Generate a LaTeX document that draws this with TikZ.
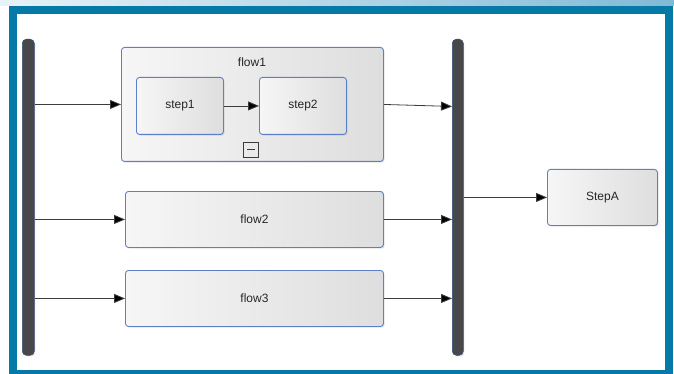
\documentclass[tikz,border=0pt]{standalone}
\usepackage{fontspec}
\setmainfont{Liberation Sans}
\usetikzlibrary{arrows.meta,shadows,calc}
\definecolor{teal1}{RGB}{6,122,166}
\definecolor{bandL}{RGB}{232,242,248}
\definecolor{bandR}{RGB}{128,186,214}
\definecolor{boxblue}{RGB}{92,128,200}
\definecolor{bargray}{RGB}{72,72,74}
\definecolor{linegray}{RGB}{60,60,60}
\definecolor{boxL}{RGB}{246,246,246}
\definecolor{boxR}{RGB}{222,222,222}
\tikzset{
  blk/.style={draw=boxblue, line width=0.9pt, rounded corners=3pt,
    left color=boxL, right color=boxR,
    drop shadow={opacity=0.22, shadow xshift=1.2pt, shadow yshift=-1.2pt},
    anchor=north west, inner sep=0pt, text=black!85, font=\fontsize{12}{14}\selectfont},
  busbar/.style={draw=boxblue!60!black, line width=0.5pt, fill=bargray, rounded corners=4pt,
    anchor=north west, inner sep=0pt, minimum width=12pt,
    drop shadow={opacity=0.2, shadow xshift=1.2pt, shadow yshift=-1.2pt}},
  arr/.style={draw=linegray, line width=0.8pt, -{Triangle[length=11pt,width=9pt,fill=black]}},
}
\begin{document}
\begin{tikzpicture}[x=1pt,y=-1pt]
\useasboundingbox (0,0) rectangle (674,374);
% top band and frame
\shade[left color=bandL, right color=bandR] (0,0) rectangle (674,6);
\fill[white] (0,6) rectangle (674,374);
\fill[teal1] (9,6) rectangle (673,374);
\fill[white] (17,14) rectangle (665,370);
% bars
\node[busbar, minimum height=316pt] (lbar) at (22,39) {};
\node[busbar, minimum width=11pt, minimum height=316pt] (rbar) at (452,39) {};
% flow1
\node[blk, minimum width=262pt, minimum height=114pt] (flow1) at (121,47) {};
\node[text=black!85, font=\fontsize{12}{14}\selectfont] (flow1lbl) at (252,62) {flow1};
\node[blk, minimum width=87pt, minimum height=57pt] (step1) at (136,77) {step1};
\node[blk, minimum width=87pt, minimum height=57pt] (step2) at (259,77) {step2};
\node[draw=linegray, line width=0.8pt, minimum size=15pt, inner sep=0pt,
  path picture={\draw[linegray, line width=0.8pt] ([xshift=-4pt]path picture bounding box.center) -- ([xshift=4pt]path picture bounding box.center);}]
  (collapse) at (251,149.5) {};
% flows 2, 3
\node[blk, minimum width=258pt, minimum height=56pt] (flow2) at (125,191) {flow2};
\node[blk, minimum width=258pt, minimum height=56pt] (flow3) at (125,270) {flow3};
% StepA
\node[blk, minimum width=110pt, minimum height=56pt] (stepA) at (547,169) {StepA};
% connectors
\draw[arr] (lbar.east |- flow1.west) -- (flow1.west);
\draw[arr] (step1.east) -- (step2.west);
\draw[arr] (flow1.east) -- ([yshift=-2pt]rbar.west |- flow1.east);
\draw[arr] (lbar.east |- flow2.west) -- (flow2.west);
\draw[arr] (lbar.east |- flow3.west) -- (flow3.west);
\draw[arr] (flow2.east) -- (rbar.west |- flow2.east);
\draw[arr] (flow3.east) -- (rbar.west |- flow3.east);
\draw[arr] (rbar.east |- stepA.west) -- (stepA.west);
\end{tikzpicture}
\end{document}
